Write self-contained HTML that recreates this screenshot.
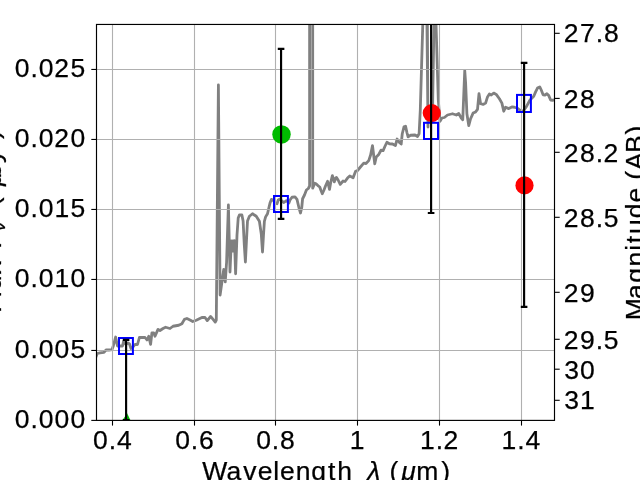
<!DOCTYPE html>
<html><head><meta charset="utf-8"><title>SED plot</title>
<style>html,body{margin:0;padding:0;background:#fff;overflow:hidden}svg{display:block}text{font-family:"Liberation Sans",sans-serif;fill:#000;stroke:#000;stroke-width:0.25px}</style>
</head><body>
<svg width="640" height="480" viewBox="0 0 640 480">
<rect x="0" y="0" width="640" height="480" fill="#ffffff"/>
<defs><clipPath id="ax"><rect x="96.5" y="24.45" width="458.0" height="395.95"/></clipPath></defs>
<g clip-path="url(#ax)">
<g stroke="#808080" stroke-width="2.8" fill="none" stroke-linejoin="round" stroke-linecap="butt">
<polyline points="95.5,358 97.3,353.5 100,352.8 104,352.3 106.3,349.8 109,350 112,349.6 113.3,346 115.6,337 117.5,346 120,346 122.5,346 123.5,341.5 126,344.5 128,343 129.5,344 131,348.5 133,347 135,344.5 137.5,344.5 139.4,337.5 142,337.3 145,337.5 147,340 148.75,336.25 150.6,344.4 151.9,333 153.75,333 155,336.25 158,329.4 160,330.5 163,328.5 165.6,327.25 170,328.5 173,326.25 178.75,325.25 181.9,323.75 184.4,319.4 186.9,318.5 190,320 192.75,321.5 196.25,320.25 201.9,317.5 205,317.5 207.25,320.6 210.6,316.5 213.1,319.4 215.25,322.1 216.3,320 218.4,85 220.1,295 221.5,285 223.75,269.4 225.25,281.9 226.6,262 228.4,205 230,272 231.3,241 232.1,251 232.9,241 233.7,251 234.5,240.6 235.6,273.75 237,235 238.2,218 239.4,215 241.9,215 243.1,221 244.3,245 245.4,262 246.5,240 247.5,221 249.4,216.25 252.5,213.75 256.25,216.25 259.4,221.25 261.25,233.75 262.5,252 263.5,235 264.4,221.25 265.6,216.9 267.5,213.75 270,203 271.4,199.4 273,200 275,203 277,203.75 278.25,200 280,199 282,201.25 283.9,202.5 286.4,200.6 288.9,203 290,200 292,197.25 295,196.9 297,199.4 298.9,207.5 300.5,213 301.75,207.5 302.6,198.75 304.5,195 306.4,190 308.3,188.5 309.6,186 309.6,10 312.7,10 312.7,188.2 314.75,183.2 316,183.75 317.9,185.6 319.75,187 321,190.5 322.3,193.75 324,190 325.5,186 327.6,181.25 329.5,189.4 330.8,182 332.4,175.6 334.25,181.9 335.75,178 336.5,177.5 338.1,180 340.25,184.4 343.1,181 345,181.5 347.5,178.1 349.75,176 353.1,177.75 355.6,171.25 357.5,170.6 360,167.5 363.75,163.1 366,163.5 368.75,160.6 370.6,155 372.5,145.6 374.75,163.75 376.25,156.9 378.75,154.4 381,150.25 383.1,150.6 385,146.25 386.9,142.25 389.4,143.75 392.5,144 395.4,145.6 397.1,139 399.4,142.5 401.2,144 402.25,133.75 404,126.9 405.6,126.25 406.9,132.5 408.1,136.9 410.6,135.25 415,135 417.5,136.5 419.1,133.75 420.3,110 423.2,10"/>
<polyline points="426.8,10 428.0,127.0 427.3,10"/>
<polyline points="434.2,10 432.7,100 432.7,112"/>
<polyline points="435.6,10 438.3,100 440,121.25 441.9,118 444.4,117.5 447.5,115 452.5,113.75 456.25,115 458.75,113.5 461.25,118.1 462.75,119.75 464,88.75 464.75,70.5 465.6,82.5 466.9,113.75 468.75,125.6 470.6,118.75 473.1,113.1 475.6,111.9 477.5,109.4 479,93.75 480.6,103.75 483.1,104.4 485.6,103.1 487.5,96.9 489.4,94 491.25,95 493.75,93.1 496.25,94.4 499.4,98.75 501.9,103.1 503.75,111.25 505.6,107.2 508.75,108.6 511.9,106.9 514.4,107.25 516.9,108 520.6,110.6 523,111.25 526.25,106.9 530,100 533.75,96.25 535.6,91.9 537.5,88.1 539.75,86.9 541.25,90 543.1,94.75 545,95 546.9,93.75 548.75,95.6 550.6,100 552.5,100.25 556,99.75"/>
</g>
</g>
<g stroke="#b0b0b0" stroke-width="1.1" fill="none">
<line x1="112.5" y1="24.45" x2="112.5" y2="420.4"/>
<line x1="194.5" y1="24.45" x2="194.5" y2="420.4"/>
<line x1="275.5" y1="24.45" x2="275.5" y2="420.4"/>
<line x1="357.5" y1="24.45" x2="357.5" y2="420.4"/>
<line x1="439.5" y1="24.45" x2="439.5" y2="420.4"/>
<line x1="521.5" y1="24.45" x2="521.5" y2="420.4"/>
<line x1="96.5" y1="69.45" x2="554.5" y2="69.45"/>
<line x1="96.5" y1="139.45" x2="554.5" y2="139.45"/>
<line x1="96.5" y1="209.45" x2="554.5" y2="209.45"/>
<line x1="96.5" y1="279.45" x2="554.5" y2="279.45"/>
<line x1="96.5" y1="350.45" x2="554.5" y2="350.45"/>
</g>
<g clip-path="url(#ax)">
<circle cx="281.5" cy="134.4" r="9.25" fill="#00bb00"/>
<circle cx="431.75" cy="113.1" r="9.05" fill="#ff0000"/>
<circle cx="524.5" cy="185.4" r="9.1" fill="#ff0000"/>
<polygon points="122.3,420.5 127.1,413.2 130.6,420.5" fill="#00bb00"/>
<rect x="119" y="338" width="13.90" height="16.00" fill="none" stroke="#0000ff" stroke-width="2"/>
<rect x="274" y="196" width="13.90" height="16.00" fill="none" stroke="#0000ff" stroke-width="2"/>
<rect x="424" y="122.8" width="14.00" height="16.20" fill="none" stroke="#0000ff" stroke-width="2"/>
<rect x="517" y="94.9" width="13.90" height="17.10" fill="none" stroke="#0000ff" stroke-width="2"/>
<g stroke="#000" stroke-width="2.15" fill="none">
<line x1="126.1" y1="339.9" x2="126.1" y2="420.0"/>
<line x1="122.8" y1="339.9" x2="129.4" y2="339.9"/>
<line x1="122.8" y1="420.0" x2="129.4" y2="420.0"/>
<line x1="281.07" y1="48.9" x2="281.07" y2="218.8"/>
<line x1="277.77" y1="48.9" x2="284.37" y2="48.9"/>
<line x1="277.77" y1="218.8" x2="284.37" y2="218.8"/>
<line x1="431.1" y1="10" x2="431.1" y2="213.0"/>
<line x1="427.8" y1="213.0" x2="434.40000000000003" y2="213.0"/>
<line x1="524.1" y1="62.8" x2="524.1" y2="306.9"/>
<line x1="520.8000000000001" y1="62.8" x2="527.4" y2="62.8"/>
<line x1="520.8000000000001" y1="306.9" x2="527.4" y2="306.9"/>
</g>
</g>
<rect x="96.5" y="24.45" width="458.00" height="395.95" fill="none" stroke="#000" stroke-width="1.15"/>
<g stroke="#000" stroke-width="1.1">
<line x1="112.5" y1="420.4" x2="112.5" y2="425.59999999999997"/>
<line x1="194.5" y1="420.4" x2="194.5" y2="425.59999999999997"/>
<line x1="275.5" y1="420.4" x2="275.5" y2="425.59999999999997"/>
<line x1="357.5" y1="420.4" x2="357.5" y2="425.59999999999997"/>
<line x1="439.5" y1="420.4" x2="439.5" y2="425.59999999999997"/>
<line x1="521.5" y1="420.4" x2="521.5" y2="425.59999999999997"/>
<line x1="91.3" y1="69.45" x2="96.5" y2="69.45"/>
<line x1="91.3" y1="139.45" x2="96.5" y2="139.45"/>
<line x1="91.3" y1="209.45" x2="96.5" y2="209.45"/>
<line x1="91.3" y1="279.45" x2="96.5" y2="279.45"/>
<line x1="91.3" y1="350.45" x2="96.5" y2="350.45"/>
<line x1="91.3" y1="420.4" x2="96.5" y2="420.4"/>
<line x1="554.5" y1="33.3" x2="559.7" y2="33.3"/>
<line x1="554.5" y1="98.4" x2="559.7" y2="98.4"/>
<line x1="554.5" y1="152.3" x2="559.7" y2="152.3"/>
<line x1="554.5" y1="217.3" x2="559.7" y2="217.3"/>
<line x1="554.5" y1="292.3" x2="559.7" y2="292.3"/>
<line x1="554.5" y1="339.3" x2="559.7" y2="339.3"/>
<line x1="554.5" y1="369.2" x2="559.7" y2="369.2"/>
<line x1="554.5" y1="400.3" x2="559.7" y2="400.3"/>
</g>
<g style="filter:grayscale(1)">
<text x="14.83 30.44 38.68 54.26 70.40" y="77.45" font-size="26.5">0.025</text>
<text x="14.83 30.44 38.68 54.26 70.49" y="147.45" font-size="26.5">0.020</text>
<text x="14.83 30.44 38.68 54.45 70.40" y="217.45" font-size="26.5">0.015</text>
<text x="14.83 30.44 38.68 54.45 70.49" y="287.45" font-size="26.5">0.010</text>
<text x="14.83 30.44 38.68 54.59 70.40" y="358.45" font-size="26.5">0.005</text>
<text x="14.83 30.44 38.68 54.59 70.49" y="428.40" font-size="26.5">0.000</text>
<text x="563.85 580.03 595.69 603.94" y="42.00" font-size="26.5">27.8</text>
<text x="563.85 580.08" y="108.00" font-size="26.5">28</text>
<text x="563.85 580.08 595.69 603.61" y="162.00" font-size="26.5">28.2</text>
<text x="563.85 580.08 595.69 603.84" y="226.60" font-size="26.5">28.5</text>
<text x="563.85 580.00" y="301.60" font-size="26.5">29</text>
<text x="563.85 580.00 595.69 603.84" y="349.00" font-size="26.5">29.5</text>
<text x="564.21 580.08" y="378.60" font-size="26.5">30</text>
<text x="564.21 579.95" y="409.00" font-size="26.5">31</text>
<text x="93.08 108.68 116.93" y="449.05" font-size="26.5">0.4</text>
<text x="175.16 190.77 199.02" y="449.05" font-size="26.5">0.6</text>
<text x="256.23 271.84 280.08" y="449.05" font-size="26.5">0.8</text>
<text x="349.77" y="449.05" font-size="26.5">1</text>
<text x="419.94 435.68 443.60" y="449.05" font-size="26.5">1.2</text>
<text x="501.39 517.14 525.38" y="449.05" font-size="26.5">1.4</text>
<text y="480.00" font-size="26.5"><tspan x="202.35 226.56 243.31 257.71 273.24 280.03 295.65 311.30 327.91 337.13">Wavelength</tspan> <tspan x="367.34" font-style="italic">λ</tspan> <tspan x="389.54">(</tspan><tspan x="401.17" font-style="italic">μ</tspan><tspan x="416.21">m</tspan><tspan x="441.34">)</tspan></text>
<text transform="translate(643.6,0) rotate(-90)" x="-320.20 -299.04 -282.64 -266.58 -250.80 -243.25 -234.10 -218.34 -202.51 -187.77 -179.76 -170.10 -153.01 -134.42" y="0" font-size="26.5">Magnitude (AB)</text>
<text transform="translate(1,0) rotate(-90)" font-size="26.5"><tspan x="-313.06 -297.19 -290.27 -274.21" y="0">Flux</tspan> <tspan x="-247.50" y="0" font-style="italic">F</tspan><tspan x="-231.00" y="4" font-size="18.5" font-style="italic">ν</tspan> <tspan x="-206.30" y="-1.6">(</tspan><tspan x="-185.90" y="0" font-style="italic">μ</tspan><tspan x="-176.50 -163.00" y="0">Jy</tspan><tspan x="-138.90" y="-1.6">)</tspan></text>
</g>
</svg>
</body></html>
